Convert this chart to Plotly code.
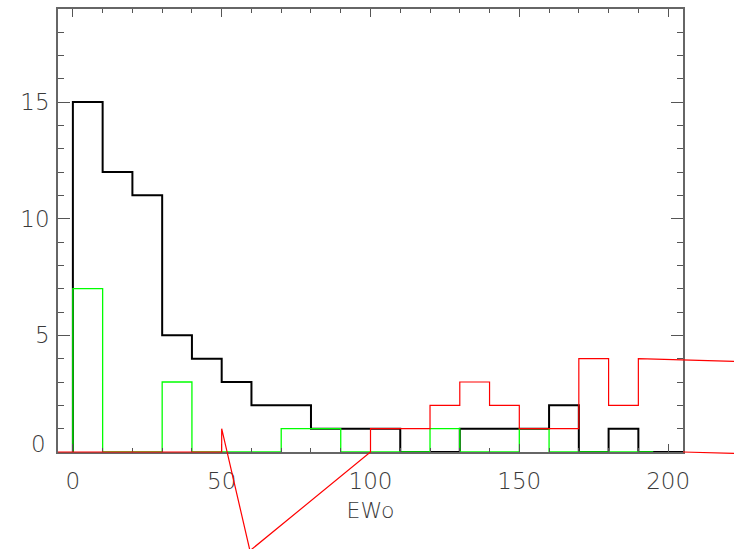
import plotly.graph_objects as go

# ---------------- data ----------------
bin_edges = [0, 10, 20, 30, 40, 50, 60, 70, 80, 90, 100, 110, 120, 130, 140, 150, 160, 170, 180, 190, 200]
black_counts = [15, 12, 11, 5, 4, 3, 2, 2, 1, 1, 1, 0, 0, 1, 1, 1, 2, 0, 1, 0]
green_counts = [7, 0, 0, 3, 0, 0, 0, 1, 1, 0, 0, 0, 1, 0, 0, 1, 0, 0, 0, 0]
black_end = 210
green_end = 195

# red curve (drawn as a polyline, not clipped by the frame)
red_x = [-5, 50, 50, 59.5, 100, 100, 120, 120, 130, 130, 140, 140, 150, 150, 170, 170, 180, 180, 190, 190, 224,
         None, 205, 224]
red_y = [0, 0, 1, -4.23, 0, 1, 1, 2, 2, 3, 3, 2, 2, 1, 1, 4, 4, 2, 2, 4, 3.88,
         None, 0, -0.065]

x_ticks = [0, 50, 100, 150, 200]
y_ticks = [0, 5, 10, 15]
x_label = "EWo"

# ---------------- geometry ----------------
W, H = 734, 549
fx0, fx1 = 58.0, 683.0      # frame left/right (px)
fy0, fy1 = 8.7, 452.0       # frame top/bottom (px)
xr = [-5, 205]
yr = [0, 19]

pxu = (fx1 - fx0) / (xr[1] - xr[0])
pyu = (fy1 - fy0) / (yr[1] - yr[0])
x2r = [xr[0] - fx0 / pxu, xr[1] + (W - fx1) / pxu]
y2r = [yr[0] - (H - fy1) / pyu, yr[1] + fy0 / pyu]


def steps(edges, counts, end):
    xs = [edges[0]] + edges[:-1] + [end]
    ys = [0] + counts + [counts[-1]]
    return xs, ys


bx, by = steps(bin_edges, black_counts, black_end)
gx, gy = steps(bin_edges, green_counts, green_end)

fig = go.Figure()
fig.add_trace(go.Scatter(x=bx, y=by, mode="lines", line=dict(color="black", width=2, shape="hv"),
                         xaxis="x", yaxis="y", showlegend=False, hoverinfo="skip"))
fig.add_trace(go.Scatter(x=gx, y=gy, mode="lines", line=dict(color="#00ff00", width=1.3, shape="hv"),
                         xaxis="x", yaxis="y", showlegend=False, hoverinfo="skip"))
fig.add_trace(go.Scatter(x=red_x, y=red_y, mode="lines", line=dict(color="#ff0000", width=1.2),
                         xaxis="x2", yaxis="y2", showlegend=False, hoverinfo="skip", connectgaps=False))

tick_font = dict(family="DejaVu Sans", size=23, color="#3a3a3a", weight=200)
axcol = "#666666"

fig.update_layout(
    template="none",
    width=W, height=H,
    margin=dict(l=0, r=0, t=0, b=0, pad=0, autoexpand=False),
    paper_bgcolor="white",
    plot_bgcolor="rgba(0,0,0,0)",
    xaxis=dict(domain=[fx0 / W, fx1 / W], range=xr, anchor="y", automargin=False,
               tickvals=x_ticks, ticks="inside", ticklen=8, tickwidth=1.3, tickcolor="#555",
               showline=True, linecolor=axcol, linewidth=1.6, mirror="ticks",
               showgrid=False, zeroline=False, tickfont=tick_font, ticklabelstandoff=8,
               title=dict(text=x_label, font=dict(family="DejaVu Sans", size=22, color="#3a3a3a", weight=200),
                          standoff=9),
               minor=dict(dtick=10, tick0=0, ticks="inside", ticklen=4.5, tickwidth=1.2, tickcolor="#555",
                          showgrid=False)),
    yaxis=dict(domain=[(H - fy1) / H, (H - fy0) / H], range=yr, anchor="x", automargin=False,
               tickvals=y_ticks, ticktext=["", "5", "10", "15"],
               ticks="inside", ticklen=12.5, tickwidth=1.3, tickcolor="#555",
               showline=True, linecolor=axcol, linewidth=1.6, mirror="ticks",
               showgrid=False, zeroline=False, tickfont=tick_font, ticklabelstandoff=2,
               minor=dict(dtick=1, tick0=0, ticks="inside", ticklen=6, tickwidth=1.2, tickcolor="#555",
                          showgrid=False)),
    xaxis2=dict(domain=[0, 1], range=x2r, anchor="y2", visible=False, showgrid=False, zeroline=False,
                automargin=False),
    yaxis2=dict(domain=[0, 1], range=y2r, anchor="x2", visible=False, showgrid=False, zeroline=False,
                automargin=False),
    annotations=[dict(text="0", xref="paper", yref="paper", x=48 / W, y=(H - 444) / H,
                      xanchor="right", yanchor="middle", showarrow=False, font=tick_font)],
)

fig.write_html("out.html", config={"displayModeBar": False},
               post_script="document.body.style.margin='0';document.body.style.overflow='hidden';")
